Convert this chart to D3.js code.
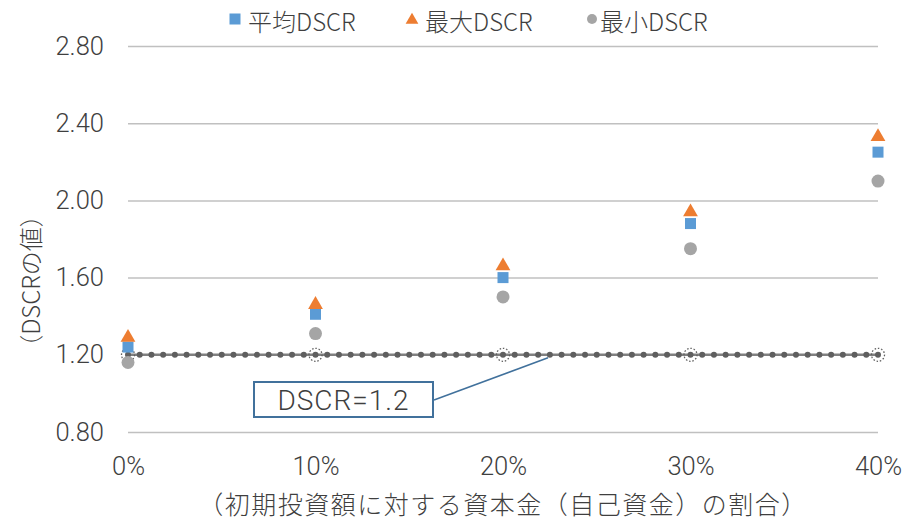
<!DOCTYPE html>
<html>
<head>
<meta charset="utf-8">
<script src="https://cdn.jsdelivr.net/npm/d3@7"></script>
<style>
  html, body { margin: 0; padding: 0; background: #fff; }
  svg { display: block; font-family: "Noto Sans CJK JP", "Noto Sans", sans-serif; font-weight: 300; }
</style>
</head>
<body>
<svg id="chart" width="909" height="522"></svg>
<script>
// Equity share of initial investment (x) and resulting DSCR values
const ratios = [0, 0.1, 0.2, 0.3, 0.4];
const xTickLabels = ["0%", "10%", "20%", "30%", "40%"];
const avgDSCR = [1.24, 1.41, 1.60, 1.88, 2.25];
const maxDSCR = [1.29, 1.46, 1.66, 1.94, 2.33];
const minDSCR = [1.16, 1.31, 1.50, 1.75, 2.10];
const yTicks = [0.8, 1.2, 1.6, 2.0, 2.4, 2.8];
const threshold = 1.2;
const thresholdLabel = "DSCR=1.2";
const calloutAt = 0.224;
const legendNames = ["平均DSCR", "最大DSCR", "最小DSCR"];
const xTitle = "（初期投資額に対する資本金（自己資金）の割合）";
const yTitle = "（DSCRの値）";

const C_AVG = "#5b9bd5", C_MAX = "#ed7d31", C_MIN = "#a5a5a5";
const TEXT = "#3f3f3f";
const NUM_FONT = "Roboto, 'Noto Sans CJK JP', sans-serif";

const svg = d3.select("#chart");
const plot = { left: 128, right: 878, top: 46, bottom: 432 };

const x = d3.scaleLinear().domain([0, 0.4]).range([plot.left, plot.right]);
const y = d3.scaleLinear().domain([0.8, 2.8]).range([plot.bottom, plot.top]);

// Horizontal gridlines + y tick labels
const yAxis = svg.append("g")
  .attr("transform", `translate(${plot.left},0)`)
  .call(d3.axisLeft(y).tickValues(yTicks).tickFormat(d3.format(".2f"))
    .tickSizeInner(-(plot.right - plot.left)).tickSizeOuter(0).tickPadding(24));
yAxis.select(".domain").remove();
yAxis.selectAll(".tick line").attr("stroke", "#c0c0c0").attr("stroke-width", 1.5);
yAxis.selectAll(".tick text").attr("fill", TEXT).attr("font-size", 25.5)
  .attr("font-family", NUM_FONT).attr("font-weight", 300);

// X tick labels
const xAxis = svg.append("g")
  .attr("transform", `translate(0,${plot.bottom})`)
  .call(d3.axisBottom(x).tickValues(ratios).tickFormat((d, i) => xTickLabels[i])
    .tickSize(0).tickPadding(25));
xAxis.select(".domain").remove();
xAxis.selectAll(".tick text").attr("fill", TEXT).attr("font-size", 25.5)
  .attr("font-family", NUM_FONT).attr("font-weight", 300);

// Threshold line at DSCR = 1.2 with round dot markers
const yT = y(threshold);
svg.append("line")
  .attr("x1", x(0)).attr("x2", x(0.4)).attr("y1", yT).attr("y2", yT)
  .attr("stroke", "#808080").attr("stroke-width", 2.5);
const dotGap = (x(0.1) - x(0)) / 16;
svg.append("line")
  .attr("x1", x(0)).attr("x2", x(0.4) + 0.5).attr("y1", yT).attr("y2", yT)
  .attr("stroke", "#5f5f5f").attr("stroke-width", 6)
  .attr("stroke-linecap", "round")
  .attr("stroke-dasharray", `0 ${dotGap}`);

// Dotted ring markers on the threshold at each category
svg.append("g").selectAll("circle").data(ratios).join("circle")
  .attr("cx", d => x(d)).attr("cy", yT).attr("r", 6.5)
  .attr("fill", "none").attr("stroke", "#5f5f5f").attr("stroke-width", 1.3)
  .attr("stroke-dasharray", "1.5 1.8");

// Scatter series
const pts = ratios.map((r, i) => ({ r, avg: avgDSCR[i], max: maxDSCR[i], min: minDSCR[i] }));
const tri = d3.symbol().type(d3.symbolTriangle).size(95);

svg.append("g").selectAll("circle").data(pts).join("circle")
  .attr("cx", d => x(d.r)).attr("cy", d => y(d.min)).attr("r", 6.5)
  .attr("fill", C_MIN);
svg.append("g").selectAll("rect").data(pts).join("rect")
  .attr("x", d => x(d.r) - 5.5).attr("y", d => y(d.avg) - 5.5)
  .attr("width", 11).attr("height", 11).attr("fill", C_AVG);
svg.append("g").selectAll("path").data(pts).join("path")
  .attr("d", tri)
  .attr("transform", d => `translate(${x(d.r)},${y(d.max)})`)
  .attr("fill", C_MAX);

// Callout for the threshold
const box = { x: 254, y: 382, w: 179, h: 35 };
svg.append("line")
  .attr("x1", box.x + box.w + 1).attr("y1", box.y + 18)
  .attr("x2", x(calloutAt)).attr("y2", yT + 3)
  .attr("stroke", "#41719c").attr("stroke-width", 1.5);
svg.append("rect")
  .attr("x", box.x).attr("y", box.y).attr("width", box.w).attr("height", box.h)
  .attr("fill", "#fff").attr("stroke", "#41719c").attr("stroke-width", 2);
svg.append("text")
  .attr("x", box.x + box.w / 2).attr("y", box.y + box.h / 2 + 1)
  .attr("text-anchor", "middle").attr("dominant-baseline", "central")
  .attr("font-family", NUM_FONT).attr("font-weight", 300).attr("letter-spacing", 1)
  .attr("fill", TEXT).attr("font-size", 28).text(thresholdLabel);

// Legend
const legend = svg.append("g");
const legendX = [235, 412, 592];
legend.append("rect").attr("x", legendX[0] - 5.5).attr("y", 13.5).attr("width", 11).attr("height", 11).attr("fill", C_AVG);
legend.append("path").attr("d", d3.symbol().type(d3.symbolTriangle).size(70)).attr("transform", `translate(${legendX[1]},20)`).attr("fill", C_MAX);
legend.append("circle").attr("cx", legendX[2]).attr("cy", 19).attr("r", 5).attr("fill", C_MIN);
legendNames.forEach((n, i) => {
  legend.append("text").attr("x", legendX[i] + (i === 2 ? 8 : 13)).attr("y", 20)
    .attr("dominant-baseline", "central").attr("fill", TEXT).attr("font-size", 24).text(n);
});

// Axis titles
svg.append("text")
  .attr("x", (plot.left + plot.right) / 2).attr("y", 503)
  .attr("text-anchor", "middle").attr("dominant-baseline", "central")
  .attr("fill", TEXT).attr("font-size", 25).attr("letter-spacing", 1.5).text(xTitle);
svg.append("text")
  .attr("transform", "translate(29,281) rotate(-90)")
  .attr("text-anchor", "middle").attr("dominant-baseline", "central")
  .attr("fill", TEXT).attr("font-size", 24).text(yTitle);
</script>
</body>
</html>
